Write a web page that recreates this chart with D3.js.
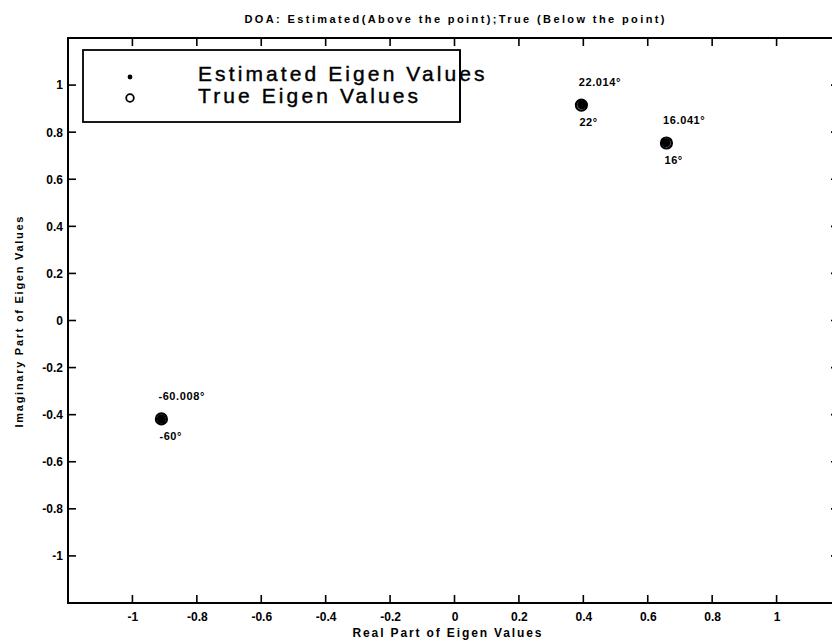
<!DOCTYPE html>
<html>
<head>
<meta charset="utf-8">
<script src="https://cdn.jsdelivr.net/npm/d3@7"></script>
<style>
  body { margin: 0; background: #fff; }
  svg { display: block; font-family: "Liberation Sans", Arial, sans-serif; }
</style>
</head>
<body>
<svg id="chart" width="832" height="644"></svg>
<script>
// DOA angles (degrees) and eigen values
const true_angles = [-60, 22, 16]
const est_angles = [-60.008, 22.014, 16.041]
const true_re = [-0.910, 0.394, 0.658]
const true_im = [-0.418, 0.915, 0.754]
const est_re = [-0.910, 0.395, 0.657]
const est_im = [-0.418, 0.916, 0.755]

const x_ticks = [-1, -0.8, -0.6, -0.4, -0.2, 0, 0.2, 0.4, 0.6, 0.8, 1]
const x_tick_labels = ['-1', '-0.8', '-0.6', '-0.4', '-0.2', '0', '0.2', '0.4', '0.6', '0.8', '1']
const y_ticks = [-1, -0.8, -0.6, -0.4, -0.2, 0, 0.2, 0.4, 0.6, 0.8, 1]
const y_tick_labels = ['-1', '-0.8', '-0.6', '-0.4', '-0.2', '0', '0.2', '0.4', '0.6', '0.8', '1']

const svg = d3.select('#chart')
const plot_left = 68, plot_right = 841, plot_top = 38, plot_bottom = 603
const tick_len = 8

const x = d3.scaleLinear().domain([-1.2, 1.2]).range([plot_left, plot_right])
const y = d3.scaleLinear().domain([-1.2, 1.2]).range([plot_bottom, plot_top])

// title
svg.append('text')
  .attr('x', (plot_left + plot_right) / 2)
  .attr('y', 23)
  .attr('text-anchor', 'middle')
  .attr('font-size', 11)
  .attr('font-weight', 'bold')
  .attr('textLength', 420)
  .attr('lengthAdjust', 'spacing')
  .text('DOA: Estimated(Above the point);True (Below the point)')

// axes: labels from d3 axes, box and inward ticks drawn separately
const bottomAxis = d3.axisBottom(x).tickValues(x_ticks).tickSize(0)
  .tickFormat((d, i) => x_tick_labels[i]).tickPadding(9)
const leftAxis = d3.axisLeft(y).tickValues(y_ticks).tickSize(0)
  .tickFormat((d, i) => y_tick_labels[i]).tickPadding(5)

function styleAxis(g){
  g.select('.domain').remove()
  g.selectAll('.tick text')
    .attr('fill', '#000')
    .attr('font-size', 12)
    .attr('font-weight', 'bold')
    .attr('font-family', '"Liberation Sans", Arial, sans-serif')
}

svg.append('g').attr('transform', 'translate(0,' + plot_bottom + ')').call(bottomAxis).call(styleAxis)
svg.append('g').attr('transform', 'translate(' + plot_left + ',0)').call(leftAxis).call(styleAxis)

svg.append('rect')
  .attr('x', plot_left).attr('y', plot_top)
  .attr('width', plot_right - plot_left).attr('height', plot_bottom - plot_top)
  .attr('fill', 'none')
  .attr('stroke', '#000')
  .attr('stroke-width', 2)

const ticks = svg.append('g').attr('stroke', '#000').attr('stroke-width', 1.6)
ticks.selectAll('line.xb').data(x_ticks).enter().append('line')
  .attr('x1', d => x(d)).attr('x2', d => x(d))
  .attr('y1', plot_bottom).attr('y2', plot_bottom - tick_len)
ticks.selectAll('line.xt').data(x_ticks).enter().append('line')
  .attr('x1', d => x(d)).attr('x2', d => x(d))
  .attr('y1', plot_top).attr('y2', plot_top + tick_len)
ticks.selectAll('line.yl').data(y_ticks).enter().append('line')
  .attr('y1', d => y(d)).attr('y2', d => y(d))
  .attr('x1', plot_left).attr('x2', plot_left + tick_len)
ticks.selectAll('line.yr').data(y_ticks).enter().append('line')
  .attr('y1', d => y(d)).attr('y2', d => y(d))
  .attr('x1', plot_right).attr('x2', plot_right - tick_len - 2)

// axis labels
svg.append('text')
  .attr('x', 447)
  .attr('y', 637)
  .attr('text-anchor', 'middle')
  .attr('font-size', 12)
  .attr('font-weight', 'bold')
  .attr('textLength', 189)
  .attr('lengthAdjust', 'spacing')
  .text('Real Part of Eigen Values')

svg.append('text')
  .attr('transform', 'translate(23,322) rotate(-90)')
  .attr('text-anchor', 'middle')
  .attr('font-size', 11)
  .attr('font-weight', 'bold')
  .attr('textLength', 211)
  .attr('lengthAdjust', 'spacing')
  .text('Imaginary Part of Eigen Values')

// points: true (open circle) with estimated (dot) on top
const pts = d3.range(true_re.length).map(i => ({
  tr: true_re[i], ti: true_im[i], er: est_re[i], ei: est_im[i],
  ta: true_angles[i], ea: est_angles[i]
}))

const marks = svg.append('g')
marks.selectAll('circle.true').data(pts).enter().append('circle')
  .attr('class', 'true')
  .attr('cx', d => x(d.tr))
  .attr('cy', d => y(d.ti))
  .attr('r', 5.5)
  .attr('fill', '#fff')
  .attr('stroke', '#000')
  .attr('stroke-width', 2.2)
marks.selectAll('circle.est').data(pts).enter().append('circle')
  .attr('class', 'est')
  .attr('cx', d => x(d.er))
  .attr('cy', d => y(d.ei))
  .attr('r', 4.6)
  .attr('fill', '#000')

// angle labels
marks.selectAll('text.above').data(pts).enter().append('text')
  .attr('class', 'above')
  .attr('x', d => x(d.er) - 3)
  .attr('y', d => y(d.ei) - 19)
  .attr('font-size', 11)
  .attr('font-weight', 'bold')
  .attr('letter-spacing', 0.6)
  .text(d => d.ea.toFixed(3) + '°')
marks.selectAll('text.below').data(pts).enter().append('text')
  .attr('class', 'below')
  .attr('x', d => x(d.tr) - 2)
  .attr('y', d => y(d.ti) + 21)
  .attr('font-size', 11)
  .attr('font-weight', 'bold')
  .attr('letter-spacing', 0.6)
  .text(d => d.ta + '°')

// legend
const legend = svg.append('g')
legend.append('rect')
  .attr('x', 83).attr('y', 50)
  .attr('width', 377).attr('height', 72)
  .attr('fill', '#fff')
  .attr('stroke', '#000')
  .attr('stroke-width', 1.8)
legend.append('circle').attr('cx', 130).attr('cy', 77).attr('r', 2.4).attr('fill', '#000')
legend.append('circle').attr('cx', 130).attr('cy', 98).attr('r', 3.8)
  .attr('fill', 'none').attr('stroke', '#000').attr('stroke-width', 1.8)
legend.selectAll('text').data(['Estimated Eigen Values', 'True Eigen Values']).enter().append('text')
  .attr('x', 198)
  .attr('y', (d, i) => 81 + i * 22)
  .attr('font-size', 21)
  .attr('letter-spacing', 3.1)
  .attr('stroke', '#000')
  .attr('stroke-width', 0.4)
  .text(d => d)
// the right border runs over the text in the original
legend.append('line')
  .attr('x1', 460).attr('x2', 460).attr('y1', 50).attr('y2', 122)
  .attr('stroke', '#000').attr('stroke-width', 1.8)
</script>
</body>
</html>
